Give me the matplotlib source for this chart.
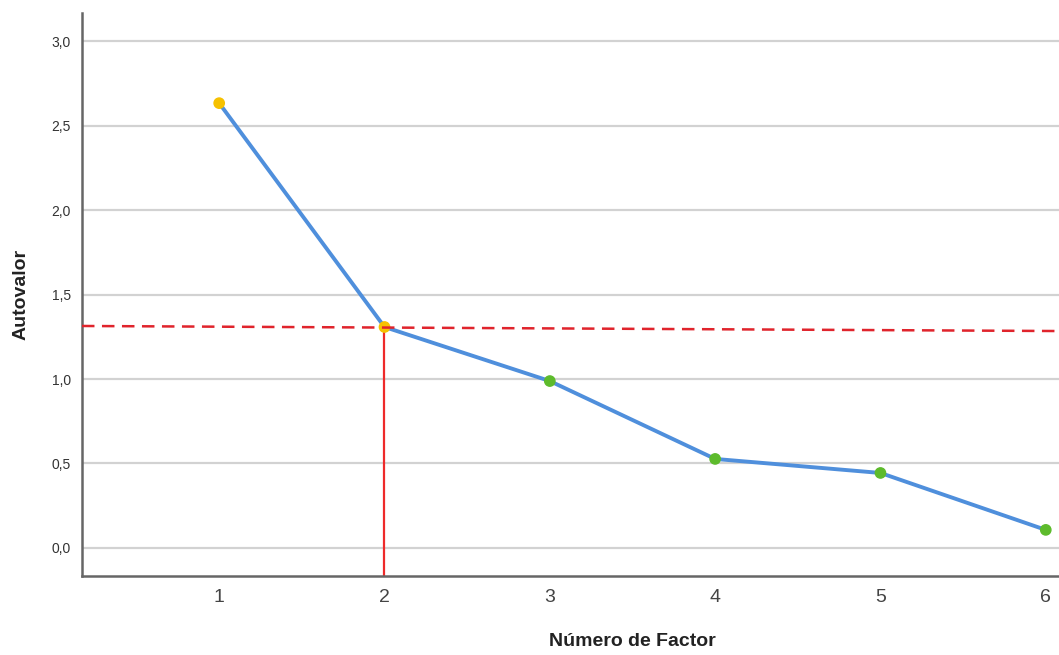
import matplotlib
matplotlib.use('Agg')
import matplotlib.pyplot as plt

plt.rcParams['font.family'] = ['Liberation Sans', 'DejaVu Sans']

factores = [1, 2, 3, 4, 5, 6]
autovalores = [2.633, 1.308, 0.988, 0.527, 0.444, 0.107]
colores_punto = ['#f6c100', '#f6c100', '#5dbb2c', '#5dbb2c', '#5dbb2c', '#5dbb2c']
yticks = [0.0, 0.5, 1.0, 1.5, 2.0, 2.5, 3.0]
ytick_labels = ['0,0', '0,5', '1,0', '1,5', '2,0', '2,5', '3,0']

# linea de corte (dibujada a mano en el original, algo inclinada)
corte_x = [0.17, 6.08]
corte_y = [1.314, 1.284]

fig = plt.figure(figsize=(10.59, 6.55), dpi=100)
ax = fig.add_axes([0.0774, 0.1206, 0.9226, 0.8594])

ax.set_xlim(0.17, 6.08)
ax.set_ylim(-0.166, 3.166)

for y in yticks:
    ax.axhline(y, color='#d2d2d2', lw=1.6, zorder=0)

ax.plot(factores, autovalores, color='#4f8fdc', lw=2.8, zorder=2)
ax.scatter(factores, autovalores, color=colores_punto, s=55, zorder=3)

ax.plot(corte_x, corte_y, color='#e0242c', lw=1.8, ls=(0, (5, 3)), zorder=4)
ax.plot([2, 2], [-0.166, autovalores[1]], color='#ee2a2a', lw=1.6, zorder=1)

ax.set_yticks(yticks)
ax.set_yticklabels(ytick_labels, fontsize=10, color='#333333')
ax.set_xticks(factores)
ax.set_xticklabels([str(f) for f in factores], fontsize=14, color='#444444')
ax.tick_params(axis='both', length=0)
ax.tick_params(axis='y', pad=8)
ax.tick_params(axis='x', pad=9)

for s in ['top', 'right']:
    ax.spines[s].set_visible(False)
for s in ['left', 'bottom']:
    ax.spines[s].set_color('#666666')
    ax.spines[s].set_linewidth(1.8)

ax.set_ylabel('Autovalor', fontsize=14, fontweight='bold', color='#222222')
ax.set_xlabel('Número de Factor', fontsize=14, fontweight='bold', color='#222222')
ax.yaxis.set_label_coords(-0.054, 0.5)
ax.xaxis.set_label_coords(0.563, -0.101)

fig.savefig('out.png', dpi=100)
